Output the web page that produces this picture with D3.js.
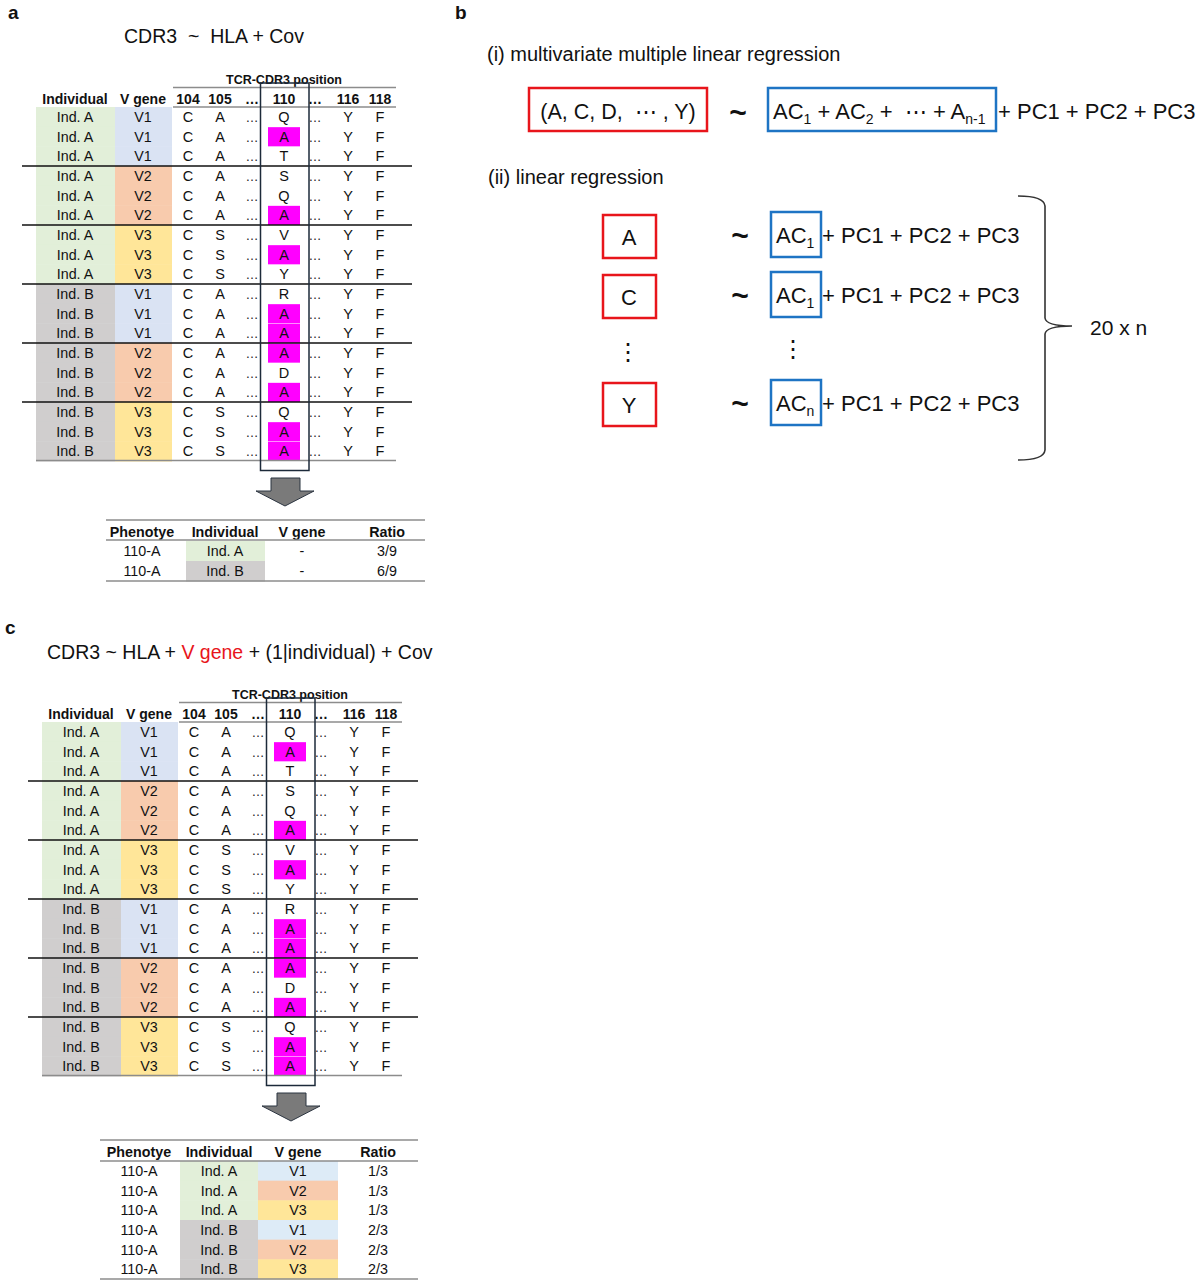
<!DOCTYPE html>
<html><head><meta charset="utf-8">
<script src="https://cdn.jsdelivr.net/npm/d3@7"></script>
<style>body{margin:0;background:#fff} svg text{font-family:"Liberation Sans",Arial,sans-serif;fill:#111}</style>
</head><body><svg id="chart" width="1198" height="1280"></svg>
<script>
// ---------------- data ----------------
const rowIndividual = ["Ind. A","Ind. A","Ind. A","Ind. A","Ind. A","Ind. A","Ind. A","Ind. A","Ind. A",
                       "Ind. B","Ind. B","Ind. B","Ind. B","Ind. B","Ind. B","Ind. B","Ind. B","Ind. B"];
const rowVGene = ["V1","V1","V1","V2","V2","V2","V3","V3","V3","V1","V1","V1","V2","V2","V2","V3","V3","V3"];
const residue104 = ["C","C","C","C","C","C","C","C","C","C","C","C","C","C","C","C","C","C"];
const residue105 = ["A","A","A","A","A","A","S","S","S","A","A","A","A","A","A","S","S","S"];
const residue110 = ["Q","A","T","S","Q","A","V","A","Y","R","A","A","A","D","A","Q","A","A"];
const residue116 = ["Y","Y","Y","Y","Y","Y","Y","Y","Y","Y","Y","Y","Y","Y","Y","Y","Y","Y"];
const residue118 = ["F","F","F","F","F","F","F","F","F","F","F","F","F","F","F","F","F","F"];
const positionLabels = ["104","105","…","110","…","116","118"];
const headerLabels = ["Individual","V gene"];
const highlightResidue = "A";

const summaryHeaders = ["Phenotye","Individual","V gene","Ratio"];
const summaryAPhenotype = ["110-A","110-A"];
const summaryAIndividual = ["Ind. A","Ind. B"];
const summaryAVGene = ["-","-"];
const summaryARatio = ["3/9","6/9"];
const summaryCPhenotype = ["110-A","110-A","110-A","110-A","110-A","110-A"];
const summaryCIndividual = ["Ind. A","Ind. A","Ind. A","Ind. B","Ind. B","Ind. B"];
const summaryCVGene = ["V1","V2","V3","V1","V2","V3"];
const summaryCRatio = ["1/3","1/3","1/3","2/3","2/3","2/3"];

const regressionTargets = ["A","C","Y"];
const regressionCovSub = ["1","1","n"];

// ---------------- styles ----------------
const indColor = d3.scaleOrdinal().domain(["Ind. A","Ind. B"]).range(["#E2EFD9","#D0CECE"]);
const vColor = d3.scaleOrdinal().domain(["V1","V2","V3","-"]).range(["#DAE3F3","#F8CBAD","#FFE699","none"]);
const vColorSummary = d3.scaleOrdinal().domain(["V1","V2","V3","-"]).range(["#DDEBF7","#F8CBAD","#FFE699","none"]);
const magenta = "#FF00FF";
const red = "#E8151B", blue = "#1E74C4";

const svg = d3.select("#chart");
svg.append("rect").attr("width",1198).attr("height",1280).attr("fill","#fff");

function txt(g, x, y, s, opt={}) {
  return g.append("text").attr("x",x).attr("y",y).text(s)
    .attr("text-anchor", opt.anchor || "middle")
    .attr("font-size", opt.size || 14)
    .attr("font-weight", opt.bold ? "bold" : null)
    .style("fill", opt.fill || "#111")
    .style("white-space","pre");
}

// ---------------- big sequence table ----------------
function drawSeqTable(g) {
  const colKeys = ["ind","vg","p104","p105","d1","p110","d2","p116","p118"];
  const x = d3.scaleOrdinal().domain(colKeys).range([75,143,188,220,252,284,315,348,380]);
  const y = d3.scaleBand().domain(d3.range(rowIndividual.length)).range([107,461]);
  const rows = d3.range(rowIndividual.length);

  g.selectAll("rect.ind").data(rows).join("rect")
    .attr("x",36).attr("width",79).attr("y",i=>y(i)).attr("height",y.bandwidth()+0.5)
    .attr("fill",i=>indColor(rowIndividual[i]));
  g.selectAll("rect.vg").data(rows).join("rect")
    .attr("x",115).attr("width",57).attr("y",i=>y(i)).attr("height",y.bandwidth()+0.5)
    .attr("fill",i=>vColor(rowVGene[i]));
  g.selectAll("rect.hl").data(rows.filter(i=>residue110[i]===highlightResidue)).join("rect")
    .attr("x",268).attr("width",32).attr("y",i=>y(i)+0.5).attr("height",y.bandwidth()-0.5)
    .attr("fill",magenta);

  txt(g, 284, 84, "TCR-CDR3 position", {size:12.5, bold:true});
  g.append("line").attr("x1",173).attr("x2",396).attr("y1",87.5).attr("y2",87.5).attr("stroke","#8c8c8c").attr("stroke-width",1.5);
  txt(g, x("ind"), 104, headerLabels[0], {size:14, bold:true});
  txt(g, x("vg"), 104, headerLabels[1], {size:14, bold:true});
  ["p104","p105","d1","p110","d2","p116","p118"].forEach((k,j)=>txt(g, x(k), 104, positionLabels[j], {size:14, bold:true}));
  g.append("line").attr("x1",173).attr("x2",396).attr("y1",107).attr("y2",107).attr("stroke","#8c8c8c").attr("stroke-width",1.5);

  rows.forEach(i=>{
    const cy = y(i) + y.bandwidth()/2 + 5;
    txt(g, x("ind"), cy, rowIndividual[i], {size:14.3});
    txt(g, x("vg"), cy, rowVGene[i], {size:14.3});
    txt(g, x("p104"), cy, residue104[i], {size:14.5});
    txt(g, x("p105"), cy, residue105[i], {size:14.5});
    txt(g, x("d1"), cy, "…", {size:13, fill:"#222"});
    txt(g, x("p110"), cy, residue110[i], {size:14.5});
    txt(g, x("d2"), cy, "…", {size:13, fill:"#222"});
    txt(g, x("p116"), cy, residue116[i], {size:14.5});
    txt(g, x("p118"), cy, residue118[i], {size:14.5});
  });

  const seps = rows.filter(i=>i>0 && rowVGene[i]!==rowVGene[i-1]);
  g.selectAll("line.sep").data(seps).join("line")
    .attr("x1",22).attr("x2",412).attr("y1",i=>y(i)).attr("y2",i=>y(i))
    .attr("stroke","#111").attr("stroke-width",1.6);
  g.append("line").attr("x1",36).attr("x2",396).attr("y1",460.5).attr("y2",460.5).attr("stroke","#8c8c8c").attr("stroke-width",1.5);

  g.append("rect").attr("x",260.5).attr("y",83).attr("width",48.5).attr("height",387.5)
    .attr("fill","none").attr("stroke","#1c2a3a").attr("stroke-width",1.5);

  const ax = 285;
  g.append("path").attr("d",`M${ax-14},478 H${ax+15} V491 H${ax+29} L${ax},506 L${ax-29},491 H${ax-14} Z`)
    .attr("fill","#7a7a7a").attr("stroke","#2b3440").attr("stroke-width",1);
}

function drawSummary(g, cols, centers, top, headerBase, headerLine, rowTop, rowBottom, xl, xr, indX, vgX) {
  const n = cols[0].length;
  const y = d3.scaleBand().domain(d3.range(n)).range([rowTop,rowBottom]);
  g.selectAll("rect.i").data(d3.range(n)).join("rect")
    .attr("x",indX[0]).attr("width",indX[1]-indX[0]).attr("y",i=>y(i)).attr("height",y.bandwidth()+0.5)
    .attr("fill",i=>indColor(cols[1][i]));
  g.selectAll("rect.v").data(d3.range(n)).join("rect")
    .attr("x",vgX[0]).attr("width",vgX[1]-vgX[0]).attr("y",i=>y(i)).attr("height",y.bandwidth()+0.5)
    .attr("fill",i=>vColorSummary(cols[2][i]));
  g.append("line").attr("x1",xl).attr("x2",xr).attr("y1",top).attr("y2",top).attr("stroke","#8c8c8c").attr("stroke-width",1.5);
  summaryHeaders.forEach((h,j)=>txt(g, centers[j], headerBase, h, {size:14.3, bold:true}));
  g.append("line").attr("x1",xl).attr("x2",xr).attr("y1",headerLine).attr("y2",headerLine).attr("stroke","#8c8c8c").attr("stroke-width",1.5);
  d3.range(n).forEach(i=>{
    const cy = y(i)+y.bandwidth()/2+5;
    cols.forEach((c,j)=>txt(g, centers[j], cy, c[i], {size:14.3}));
  });
  g.append("line").attr("x1",xl).attr("x2",xr).attr("y1",rowBottom).attr("y2",rowBottom).attr("stroke","#8c8c8c").attr("stroke-width",1.5);
}

// ---------------- panel a ----------------
txt(svg, 8, 19, "a", {size:19, bold:true, anchor:"start"});
txt(svg, 214, 43, "CDR3  ~  HLA + Cov", {size:19.5});
drawSeqTable(svg.append("g"));
drawSummary(svg.append("g"), [summaryAPhenotype, summaryAIndividual, summaryAVGene, summaryARatio],
  [142,225,302,387], 520, 537, 540, 541, 581, 106, 425, [186,265], [265,345]);

// ---------------- panel c ----------------
txt(svg, 5, 634, "c", {size:19, bold:true, anchor:"start"});
const tc = txt(svg, 47, 659, "", {size:19.5, anchor:"start"});
tc.append("tspan").text("CDR3 ~ HLA + ");
tc.append("tspan").text("V gene").style("fill", red);
tc.append("tspan").text(" + (1|individual) + Cov");
drawSeqTable(svg.append("g").attr("transform","translate(6,615)"));
drawSummary(svg.append("g"), [summaryCPhenotype, summaryCIndividual, summaryCVGene, summaryCRatio],
  [139,219,298,378], 1140, 1157, 1161, 1161, 1279, 100, 418, [180,258], [258,338]);

// ---------------- panel b ----------------
txt(svg, 455, 19, "b", {size:19, bold:true, anchor:"start"});
txt(svg, 487, 61, "(i) multivariate multiple linear regression", {size:20, anchor:"start"});
svg.append("rect").attr("x",529).attr("y",88).attr("width",178).attr("height",43).attr("fill","none").attr("stroke",red).attr("stroke-width",2.5);
txt(svg, 618, 119, "(A, C, D,  ⋯ , Y)", {size:21.5});
txt(svg, 738, 123, "~", {size:30, bold:true});
svg.append("rect").attr("x",768).attr("y",88).attr("width",228).attr("height",43).attr("fill","none").attr("stroke",blue).attr("stroke-width",2.5);
const tb = txt(svg, 773, 119, "", {size:22, anchor:"start"});
tb.append("tspan").text("AC");
tb.append("tspan").text("1").attr("font-size",14).attr("dy",5);
tb.append("tspan").text(" + AC").attr("dy",-5);
tb.append("tspan").text("2").attr("font-size",14).attr("dy",5);
tb.append("tspan").text(" +  ⋯ + A").attr("dy",-5);
tb.append("tspan").text("n-1").attr("font-size",14).attr("dy",5);
txt(svg, 998, 119, "+ PC1 + PC2 + PC3", {size:22, anchor:"start"});

txt(svg, 488, 184, "(ii) linear regression", {size:20, anchor:"start"});
const rowCenters = [236, 296, 404];
regressionTargets.forEach((t,i)=>{
  const cy = rowCenters[i];
  svg.append("rect").attr("x",603).attr("y",cy-21).attr("width",53).attr("height",43).attr("fill","none").attr("stroke",red).attr("stroke-width",2.5);
  txt(svg, 629, cy+9, t, {size:22});
  txt(svg, 740, cy+10, "~", {size:30, bold:true});
  svg.append("rect").attr("x",771).attr("y",cy-24).attr("width",50).attr("height",45).attr("fill","none").attr("stroke",blue).attr("stroke-width",2.5);
  const t2 = txt(svg, 776, cy+7, "", {size:22, anchor:"start"});
  t2.append("tspan").text("AC");
  t2.append("tspan").text(regressionCovSub[i]).attr("font-size",14).attr("dy",5);
  txt(svg, 822, cy+7, "+ PC1 + PC2 + PC3", {size:22, anchor:"start"});
});
txt(svg, 628, 360, "⋮", {size:24});
txt(svg, 793, 357, "⋮", {size:24});
svg.append("path").attr("d","M1018,196 Q1044,196 1045,206 V318 Q1046,326 1072,326 Q1046,326 1045,334 V450 Q1044,460 1018,460")
  .attr("fill","none").attr("stroke","#333").attr("stroke-width",1.6);
txt(svg, 1090, 335, "20 x n", {size:21, anchor:"start"});
</script>
</body></html>
